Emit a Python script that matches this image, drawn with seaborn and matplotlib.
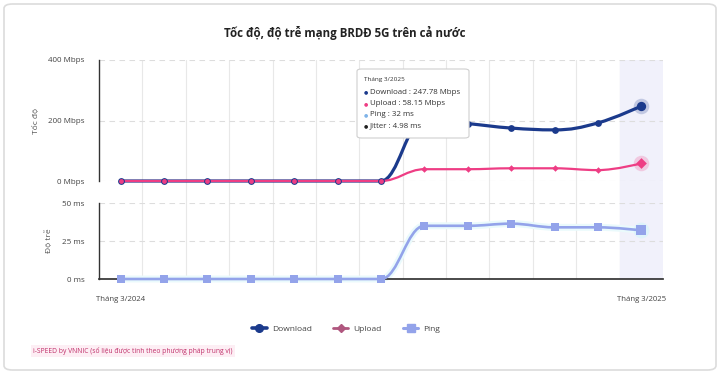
import numpy as np
import seaborn as sns
import matplotlib.pyplot as plt
from matplotlib.path import Path
from matplotlib.patches import PathPatch, FancyBboxPatch
from matplotlib.lines import Line2D

months = ['Tháng 3/2024', 'Tháng 4/2024', 'Tháng 5/2024', 'Tháng 6/2024', 'Tháng 7/2024',
          'Tháng 8/2024', 'Tháng 9/2024', 'Tháng 10/2024', 'Tháng 11/2024', 'Tháng 12/2024',
          'Tháng 1/2025', 'Tháng 2/2025', 'Tháng 3/2025']
download = [0, 0, 0, 0, 0, 0, 0, 205, 190, 175, 169, 192, 247.78]
upload = [0, 0, 0, 0, 0, 0, 0, 39, 39, 42, 42, 36, 58.15]
ping = [0, 0, 0, 0, 0, 0, 0, 35, 35, 36.4, 34, 34, 32]
tooltip_lines = [('Download : 247.78 Mbps', '#1b3a8c'),
                 ('Upload : 58.15 Mbps', '#ee3d84'),
                 ('Ping : 32 ms', '#7fb3e8'),
                 ('Jitter : 4.98 ms', '#222222')]

C_DL = '#1b3a8c'
C_UP = '#ee3d84'
C_PING = '#93a3ea'
GRID = '#e8e8e8'

sns.set_theme(style='white')
plt.rcParams['font.family'] = ['Open Sans', 'DejaVu Sans']

W, H = 720, 373


def fx(px):
    return px / W


def fy(py):
    return 1 - py / H


def spline_path(xs, ys, smoothing=1.5):
    # highcharts-style spline control points
    n = len(xs)
    lc = [None] * n
    rc = [None] * n
    d = smoothing + 1
    for i in range(1, n - 1):
        px, py = xs[i], ys[i]
        lx, ly = xs[i - 1], ys[i - 1]
        nx, ny = xs[i + 1], ys[i + 1]
        lcx = (smoothing * px + lx) / d
        lcy = (smoothing * py + ly) / d
        rcx = (smoothing * px + nx) / d
        rcy = (smoothing * py + ny) / d
        corr = ((rcy - lcy) * (rcx - px)) / (rcx - lcx) + py - rcy
        lcy += corr
        rcy += corr
        if lcy > ly and lcy > py:
            lcy = max(ly, py)
            rcy = 2 * py - lcy
        elif lcy < ly and lcy < py:
            lcy = min(ly, py)
            rcy = 2 * py - lcy
        if rcy > ny and rcy > py:
            rcy = max(ny, py)
            lcy = 2 * py - rcy
        elif rcy < ny and rcy < py:
            rcy = min(ny, py)
            lcy = 2 * py - rcy
        lc[i] = (lcx, lcy)
        rc[i] = (rcx, rcy)
    verts = [(xs[0], ys[0])]
    codes = [Path.MOVETO]
    for i in range(1, n):
        c1 = rc[i - 1] if rc[i - 1] is not None else (xs[i - 1], ys[i - 1])
        c2 = lc[i] if lc[i] is not None else (xs[i], ys[i])
        verts += [c1, c2, (xs[i], ys[i])]
        codes += [Path.CURVE4] * 3
    return Path(verts, codes)


fig = plt.figure(figsize=(7.2, 3.73), dpi=100)
fig.patch.set_facecolor('white')

# card border
fig.patches.append(FancyBboxPatch((fx(4), fy(370)), fx(712), 366 / H,
                                  boxstyle='round,pad=0,rounding_size=0.012',
                                  transform=fig.transFigure, facecolor='white',
                                  edgecolor='#dcdcdc', linewidth=1.2, zorder=-5))

x = np.arange(len(months))

# background axis for vertical grid + hover band
bg = fig.add_axes([fx(99), fy(279), fx(564), 219 / H])
bg.set_xlim(-0.5, len(months) - 0.5)
bg.set_ylim(0, 1)
bg.axis('off')
bg.patch.set_alpha(0)
for k in range(1, len(months)):
    bg.axvline(k - 0.5, color=GRID, linewidth=0.8, zorder=0)
bg.axvspan(len(months) - 1.5, len(months) - 0.5, color='#f1f1fb', zorder=0)

ax1 = fig.add_axes([fx(99), fy(181), fx(564), 121 / H])
ax2 = fig.add_axes([fx(99), fy(279), fx(564), 76 / H])

for ax in (ax1, ax2):
    ax.patch.set_alpha(0)
    ax.set_xlim(-0.5, len(months) - 0.5)
    for s in ['top', 'right', 'bottom']:
        ax.spines[s].set_visible(False)
    ax.spines['left'].set_color('#333333')
    ax.spines['left'].set_linewidth(1.0)
    ax.tick_params(axis='y', length=0, labelsize=5.8, labelcolor='#444444', pad=10.5)
    ax.yaxis.grid(True, color='#dddddd', linestyle=(0, (5, 4)), linewidth=0.8)
    ax.set_axisbelow(True)

ax1.set_ylim(0, 400)
ax1.set_yticks([0, 200, 400])
ax1.set_yticklabels(['0 Mbps', '200 Mbps', '400 Mbps'])
ax1.set_xticks([])

ax2.set_ylim(0, 50)
ax2.set_yticks([0, 25, 50])
ax2.set_yticklabels(['0 ms', '25 ms', '50 ms'])
ax2.spines['bottom'].set_visible(True)
ax2.spines['bottom'].set_color('#333333')
ax2.set_xticks([0, len(months) - 1])
ax2.set_xticklabels([months[0], months[-1]])
ax2.tick_params(axis='x', length=0, labelsize=5.6, labelcolor='#444444', pad=12)

# lines
ax1.add_patch(PathPatch(spline_path(x, download), facecolor='none', edgecolor=C_DL,
                        linewidth=2.3, zorder=3, clip_on=False, capstyle='round'))
ax1.add_patch(PathPatch(spline_path(x, upload), facecolor='none', edgecolor=C_UP,
                        linewidth=1.6, zorder=4, clip_on=False, capstyle='round'))
ax2.add_patch(PathPatch(spline_path(x, ping), facecolor='none', edgecolor='#eafafc',
                        linewidth=5, zorder=2, clip_on=False))
ax2.add_patch(PathPatch(spline_path(x, ping), facecolor='none', edgecolor=C_PING,
                        linewidth=1.9, zorder=3, clip_on=False, capstyle='round'))

# markers
last = len(months) - 1
ax1.scatter([x[last]], [download[last]], s=125, color=C_DL, alpha=0.22, linewidth=0, zorder=4, clip_on=False)
ax1.scatter([x[last]], [upload[last]], s=125, color=C_UP, alpha=0.22, linewidth=0, zorder=4, clip_on=False)
ax2.scatter([x[last]], [ping[last]], s=130, color='#daf4fa', alpha=0.8, linewidth=0, zorder=2, clip_on=False)

sns.scatterplot(x=x[:last], y=download[:last], ax=ax1, color=C_DL, s=24, marker='o',
                linewidth=0, zorder=5, clip_on=False)
sns.scatterplot(x=[x[last]], y=[download[last]], ax=ax1, color=C_DL, s=45, marker='o',
                linewidth=0, zorder=5, clip_on=False)
sns.scatterplot(x=x[:7], y=upload[:7], ax=ax1, color=C_UP, s=12, marker='o',
                linewidth=0, zorder=6, clip_on=False)
sns.scatterplot(x=x[7:last], y=upload[7:last], ax=ax1, color=C_UP, s=11, marker='D',
                linewidth=0, zorder=6, clip_on=False)
sns.scatterplot(x=[x[last]], y=[upload[last]], ax=ax1, color=C_UP, s=30, marker='D',
                linewidth=0, zorder=6, clip_on=False)
sns.scatterplot(x=x[:last], y=ping[:last], ax=ax2, color=C_PING, s=28, marker='s',
                linewidth=0, zorder=5, clip_on=False)
sns.scatterplot(x=[x[last]], y=[ping[last]], ax=ax2, color=C_PING, s=55, marker='s',
                linewidth=0, zorder=5, clip_on=False)

# titles and axis names
fig.text(fx(345), fy(33), 'Tốc độ, độ trễ mạng BRDĐ 5G trên cả nước', ha='center', va='center',
         fontsize=8.3, fontweight='bold', color='#222222')
fig.text(fx(36), fy(121), 'Tốc độ', rotation=90, ha='center', va='center', fontsize=6, color='#555555')
fig.text(fx(48), fy(241), 'Độ trễ', rotation=90, ha='center', va='center', fontsize=6, color='#555555')

# tooltip
fig.patches.append(FancyBboxPatch((fx(357), fy(138)), fx(112), 69 / H,
                                  boxstyle='round,pad=0,rounding_size=0.006',
                                  transform=fig.transFigure, facecolor='white',
                                  edgecolor='#cfcfcf', linewidth=0.8, zorder=10))
fig.text(fx(364), fy(79), 'Tháng 3/2025', fontsize=4.6, color='#333333', va='center', zorder=11)
for i, (txt, col) in enumerate(tooltip_lines):
    yy = fy(92 + i * 11.2)
    fig.text(fx(364), yy, '●', fontsize=3.5, color=col, va='center', zorder=11)
    fig.text(fx(370), yy, txt, fontsize=5.7, color='#333333', va='center', zorder=11)

# legend
handles = [
    Line2D([0], [0], color=C_DL, linewidth=2.6, marker='o', markersize=5.5),
    Line2D([0], [0], color='#b0577f', linewidth=2.0, marker='D', markersize=4),
    Line2D([0], [0], color=C_PING, linewidth=2.2, marker='s', markersize=5.5),
]
fig.legend(handles, ['Download', 'Upload', 'Ping'], loc='center', ncol=3, frameon=False,
           bbox_to_anchor=(fx(346), fy(329)), fontsize=6, handlelength=1.8, columnspacing=2.6,
           handletextpad=0.6, labelcolor='#444444')

fig.text(fx(33), fy(351), 'i-SPEED by VNNIC (số liệu được tính theo phương pháp trung vị)',
         fontsize=4.9, color='#c0306a', va='center',
         bbox=dict(facecolor='#fdeef4', edgecolor='none', pad=1.5))

fig.savefig('out.png', dpi=100, facecolor='white')
plt.close(fig)
